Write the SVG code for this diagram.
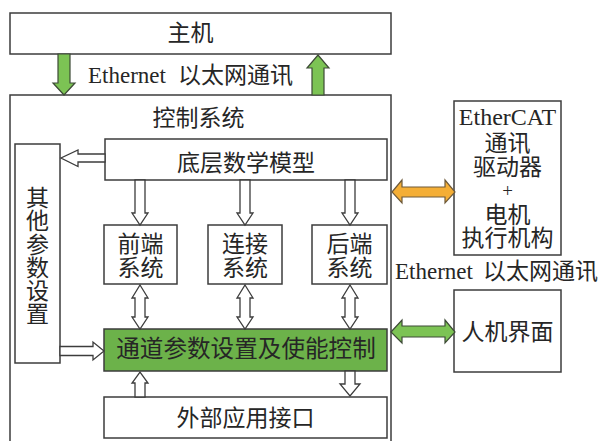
<svg xmlns="http://www.w3.org/2000/svg" width="601" height="441" viewBox="0 0 601 441">
  <style>
    .box { fill: #ffffff; stroke: #3c3c3c; stroke-width: 1.5; }
    .green { fill: #6cb24a; stroke: #3c3c3c; stroke-width: 1.5; }
    .hollow { fill: #ffffff; stroke: #3c3c3c; stroke-width: 1.3; stroke-linejoin: miter; }
    .garrow { fill: #7cc354; stroke: #3d4a36; stroke-width: 1.2; }
    .oarrow { fill: #f4ae36; stroke: #6e5a3a; stroke-width: 1.2; }
    text { font-family: "Liberation Serif", "Noto Sans CJK SC", serif; font-size: 23px; fill: #262626; }
    .c { text-anchor: middle; }
  </style>

  <!-- host -->
  <g id="host">
    <rect class="box" x="10" y="13" width="381" height="41"/>
    <text class="c" x="190.5" y="41">主机</text>
  </g>

  <!-- control system frame (runs past the bottom edge) -->
  <g id="control-system">
    <rect class="box" x="10" y="95" width="381" height="360"/>
    <text class="c" x="198.5" y="126">控制系统</text>
  </g>

  <g id="math-model">
    <rect class="box" x="105" y="139" width="282" height="41"/>
    <text class="c" x="246" y="170.5">底层数学模型</text>
  </g>

  <g id="other-params">
    <rect class="box" x="15" y="144" width="45" height="219"/>
    <text class="c" x="37.5" y="206">其</text>
    <text class="c" x="37.5" y="229">他</text>
    <text class="c" x="37.5" y="252.5">参</text>
    <text class="c" x="37.5" y="275.5">数</text>
    <text class="c" x="37.5" y="299">设</text>
    <text class="c" x="37.5" y="322">置</text>
  </g>

  <g id="front-end">
    <rect class="box" x="104" y="225" width="73" height="59"/>
    <text class="c" x="140.5" y="252">前端</text>
    <text class="c" x="140.5" y="276">系统</text>
  </g>

  <g id="link">
    <rect class="box" x="208" y="225" width="74" height="59"/>
    <text class="c" x="245" y="252">连接</text>
    <text class="c" x="245" y="276">系统</text>
  </g>

  <g id="back-end">
    <rect class="box" x="312" y="225" width="75" height="59"/>
    <text class="c" x="349.5" y="252">后端</text>
    <text class="c" x="349.5" y="276">系统</text>
  </g>

  <g id="channel-control">
    <rect class="green" x="104" y="329" width="283" height="42"/>
    <text class="c" x="246" y="356.5" style="font-size:23.6px">通道参数设置及使能控制</text>
  </g>

  <g id="external-api">
    <rect class="box" x="104" y="397" width="283" height="41"/>
    <text class="c" x="245.5" y="425.5">外部应用接口</text>
  </g>

  <g id="ethercat-drive">
    <rect class="box" x="454" y="101" width="107" height="154"/>
    <text class="c" x="507.5" y="125" style="font-size:24px">EtherCAT</text>
    <text class="c" x="507.5" y="151">通讯</text>
    <text class="c" x="507.5" y="175">驱动器</text>
    <text class="c" x="507.5" y="197" style="font-size:19px">+</text>
    <text class="c" x="507.5" y="222.5">电机</text>
    <text class="c" x="507.5" y="246">执行机构</text>
  </g>

  <g id="hmi">
    <rect class="box" x="454" y="290" width="107" height="82"/>
    <text class="c" x="507.5" y="340">人机界面</text>
  </g>

  <!-- link labels -->
  <g id="labels">
    <text x="88" y="83">Ethernet<tspan x="178">以太网通讯</tspan></text>
    <text x="395" y="279">Ethernet<tspan x="483">以太网通讯</tspan></text>
  </g>

  <!-- connectors -->
  <g id="connectors">
    <!-- host <-> control system over Ethernet -->
    <polygon class="garrow" points="58,54 70,54 70,83 75,83 64,95 53,83 58,83"/>
    <polygon class="garrow" points="312,95 324,95 324,68 329,68 318,55 307,68 312,68"/>

    <!-- math model -> other parameter settings -->
    <polygon class="hollow" points="105,154 78,154 78,150 61,158 78,166.5 78,162 105,162"/>

    <!-- math model -> subsystems -->
    <polygon class="hollow" points="135,180 145,180 145,213 148,213 140,225 132,213 135,213"/>
    <polygon class="hollow" points="240,180 250,180 250,213 253,213 245,225 237,213 240,213"/>
    <polygon class="hollow" points="345,180 355,180 355,213 358,213 350,225 342,213 345,213"/>

    <!-- subsystems <-> channel control -->
    <polygon class="hollow" points="140,285 148,298 145,298 145,317 148,317 140,329 132,317 135,317 135,298 132,298"/>
    <polygon class="hollow" points="245,285 253,298 250,298 250,317 253,317 245,329 237,317 240,317 240,298 237,298"/>
    <polygon class="hollow" points="350,285 358,298 355,298 355,317 358,317 350,329 342,317 345,317 345,298 342,298"/>

    <!-- other parameter settings -> channel control -->
    <polygon class="hollow" points="60,346.5 93,346.5 93,342 104,351 93,360 93,355.5 60,355.5"/>

    <!-- external api -> channel control -->
    <polygon class="hollow" points="135,397 145,397 145,383 148,383 140,372 132,383 135,383"/>

    <!-- channel control -> external api -->
    <polygon class="hollow" points="345,371 355,371 355,384 360,384 350,396 340,384 345,384"/>

    <!-- control system <-> EtherCAT drive -->
    <polygon class="oarrow" points="392,192 402,180 402,187 445,187 445,180 455,192 445,203 445,197 402,197 402,203"/>

    <!-- control system <-> HMI -->
    <polygon class="garrow" points="391,332 402,320 402,326 445,326 445,320 455,332 445,343 445,337 402,337 402,343"/>
  </g>
</svg>
